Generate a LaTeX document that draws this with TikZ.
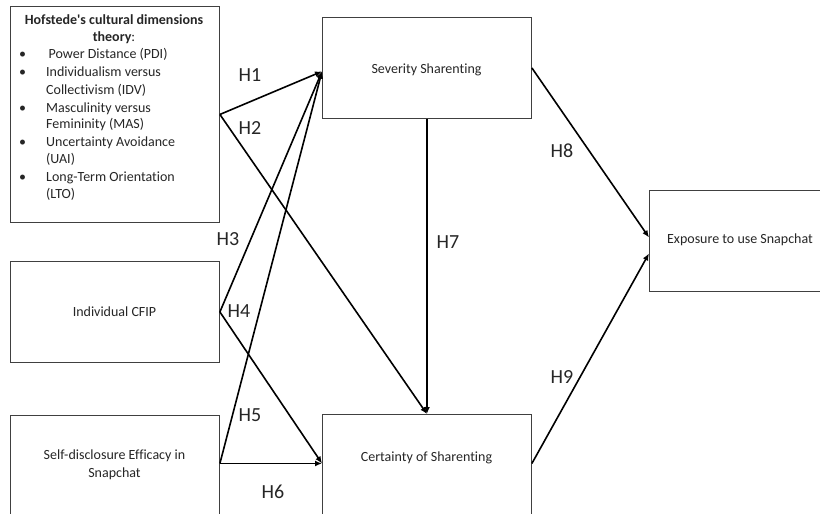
\documentclass[tikz,border=0pt]{standalone}
\usepackage{fontspec}
\setmainfont[Ligatures={NoCommon}]{Carlito}
\usetikzlibrary{arrows.meta,calc}
\definecolor{txt}{HTML}{262626}
\definecolor{frame}{HTML}{404040}
\tikzset{
  box/.style={draw=frame, line width=0.9pt, rectangle, anchor=north west, inner sep=0pt},
  boxtext/.style={font=\fontsize{14}{17.5}\selectfont, text=txt, align=center, inner sep=0pt},
  listtext/.style={font=\fontsize{14}{17.5}\selectfont, text=txt, anchor=base west, inner sep=0pt},
  hyp/.style={font=\fontsize{20}{24}\selectfont, text=txt, inner sep=0pt},
  conn/.style={line width=1.6pt, black, -{Latex[length=7pt,width=6pt]}}
}
\begin{document}
\begin{tikzpicture}[x=1pt,y=-1pt]
\useasboundingbox (0,0) rectangle (820,514);
\clip (0,0) rectangle (820,514);
\fill[white] (0,0) rectangle (820,514);

% boxes
\node[box, minimum width=209pt, minimum height=216pt] (hof) at (10,6) {};
\node[box, minimum width=209pt, minimum height=101pt] (sev) at (322,17) {};
\node[box, minimum width=209pt, minimum height=101pt] (cfip) at (10,261) {};
\node[box, minimum width=209pt, minimum height=101pt] (self) at (10,415) {};
\node[box, minimum width=209pt, minimum height=101pt] (cer) at (322,414) {};
\node[box, minimum width=182pt, minimum height=101pt] (exp) at (649,190) {};

% box texts
\node[boxtext] (hoftitle) at (114,29) {\textbf{Hofstede\textquotesingle s cultural dimensions}\\\textbf{theory}:};
\node[listtext] (b1) at (19,58) {•};
\node[listtext] (l1) at (48.5,58) {Power Distance (PDI)};
\node[listtext] (b2) at (19,76) {•};
\node[listtext] (l2) at (46,76) {Individualism versus};
\node[listtext] (l2b) at (46,94) {Collectivism (IDV)};
\node[listtext] (b3) at (19,112) {•};
\node[listtext] (l3) at (46,112) {Masculinity versus};
\node[listtext] (l3b) at (46,128.5) {Femininity (MAS)};
\node[listtext] (b4) at (19,146) {•};
\node[listtext] (l4) at (46,146) {Uncertainty Avoidance};
\node[listtext] (l4b) at (46,163.5) {(UAI)};
\node[listtext] (b5) at (19,181) {•};
\node[listtext] (l5) at (46,181) {Long-Term Orientation};
\node[listtext] (l5b) at (46,198.5) {(LTO)};

\node[boxtext] (sevt) at (426.5,70) {Severity Sharenting};
\node[boxtext] (cfipt) at (114.5,312) {Individual CFIP};
\node[boxtext] (selft) at (114.5,465) {Self-disclosure Efficacy in\\Snapchat};
\node[boxtext] (cert) at (426.5,458) {Certainty of Sharenting};
\node[boxtext] (expt) at (740,240) {Exposure to use Snapchat};

% connectors
\draw[conn] (hof.east) -- ($(sev.west)+(0,3.5)$);
\draw[conn] (hof.east) -- (cer.north);
\draw[conn] (cfip.east) -- ($(sev.west)+(0,3.5)$);
\draw[conn] (cfip.east) -- ($(cer.west)+(0,-1.5)$);
\draw[conn] ($(self.east)+(0,-2.5)$) -- ($(sev.west)+(0,3.5)$);
\draw[conn] ($(self.east)+(0,-2.5)$) -- ($(cer.west)+(0,-1.5)$);
\draw[conn] (sev.south) -- (cer.north);
\draw[conn] (sev.east) -- ($(exp.west)+(0,-3.5)$);
\draw[conn] ($(cer.east)+(0,-1.5)$) -- ($(exp.west)+(0,12.5)$);

% hypothesis labels
\node[hyp] (h1) at (250,75) {H1};
\node[hyp] (h2) at (250,128) {H2};
\node[hyp] (h3) at (228,239) {H3};
\node[hyp] (h4) at (239,311) {H4};
\node[hyp] (h5) at (250,415) {H5};
\node[hyp] (h6) at (273,492) {H6};
\node[hyp] (h7) at (448,242) {H7};
\node[hyp] (h8) at (562,151) {H8};
\node[hyp] (h9) at (562,377) {H9};
\end{tikzpicture}
\end{document}
